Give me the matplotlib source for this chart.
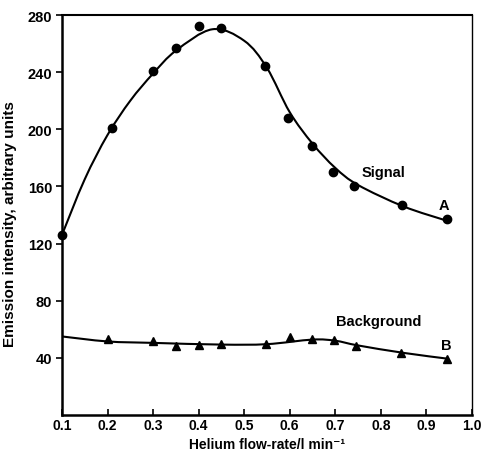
import numpy as np
import matplotlib
matplotlib.use("Agg")
import matplotlib.pyplot as plt
from matplotlib.path import Path
from matplotlib.patches import PathPatch

plt.rcParams['font.family'] = ['Liberation Sans', 'DejaVu Sans']

# --- measured points ---
signal_x = [0.1, 0.21, 0.3, 0.35, 0.4, 0.45, 0.545, 0.597, 0.65, 0.695, 0.742, 0.846, 0.945]
signal_y = [126, 201, 241, 257, 272, 271, 244, 208, 188, 170, 160, 147, 137]

bg_x = [0.2, 0.3, 0.35, 0.4, 0.45, 0.547, 0.6, 0.65, 0.697, 0.746, 0.845, 0.945]
bg_y = [53, 52, 48.5, 49, 49.5, 49.5, 54.5, 53, 52.5, 48, 43.5, 39]

# --- hand-drawn fit curves (knots) ---
signal_fit_x = [0.1, 0.15, 0.2, 0.25, 0.3, 0.35, 0.43, 0.5, 0.55, 0.6, 0.65, 0.7, 0.75, 0.85, 0.945]
signal_fit_y = [126, 165, 196, 220, 239, 255, 270, 262, 243, 212, 190, 173, 161, 146, 136]

bg_fit_x = [0.1, 0.2, 0.3, 0.45, 0.55, 0.65, 0.7, 0.75, 0.85, 0.945]
bg_fit_y = [55, 51.5, 50.5, 49.3, 49.6, 52.8, 52, 48.7, 43.5, 39.5]

x_ticks = [0.1, 0.2, 0.3, 0.4, 0.5, 0.6, 0.7, 0.8, 0.9, 1.0]
y_ticks = [40, 80, 120, 160, 200, 240, 280]


def smooth_path(xs, ys):
    """Catmull-Rom through the knots, expressed as cubic Bezier segments."""
    pts = np.column_stack([xs, ys]).astype(float)
    p = np.vstack([pts[0], pts, pts[-1]])
    verts = [pts[0]]
    codes = [Path.MOVETO]
    for i in range(1, len(p) - 2):
        c1 = p[i] + (p[i + 1] - p[i - 1]) / 6.0
        c2 = p[i + 1] - (p[i + 2] - p[i]) / 6.0
        verts += [c1, c2, p[i + 1]]
        codes += [Path.CURVE4] * 3
    return Path(verts, codes)


fig = plt.figure(figsize=(4.84, 4.52), dpi=100)
ax = fig.add_axes([0.128, 0.0796, 0.847, 0.885])

for fx, fy in [(signal_fit_x, signal_fit_y), (bg_fit_x, bg_fit_y)]:
    ax.add_patch(PathPatch(smooth_path(fx, fy), facecolor='none',
                           edgecolor='black', lw=1.5, zorder=2))

ax.plot(signal_x, signal_y, 'o', color='black', ms=6, zorder=3, clip_on=False)
ax.plot(bg_x, bg_y, '^', color='black', ms=6, zorder=3, clip_on=False)

ax.set_xlim(0.1, 1.0)
ax.set_ylim(0, 280)
ax.set_xticks(x_ticks)
ax.set_xticklabels([f"{v:.1f}" for v in x_ticks])
ax.set_yticks(y_ticks)

ax.tick_params(axis='x', direction='in', length=4, width=1.2, pad=2)
ax.tick_params(axis='y', direction='out', length=4, width=1.2, pad=3)
for lab in ax.get_xticklabels():
    lab.set_fontsize(10)
    lab.set_fontweight('bold')
for lab in ax.get_yticklabels():
    lab.set_fontsize(10.5)
    lab.set_fontweight('bold')

ax.spines['left'].set_linewidth(1.8)
ax.spines['bottom'].set_linewidth(1.8)
ax.spines['top'].set_linewidth(1.5)
ax.spines['right'].set_linewidth(1.0)

# x label sits right at the lower edge of the figure
fig.text(0.552, 0.0, 'Helium flow-rate/l min\u207b\u00b9', fontsize=10,
         fontweight='bold', ha='center', va='bottom')
ax.set_ylabel('Emission intensity, arbitrary units', fontsize=11, fontweight='bold')
ax.yaxis.set_label_coords(-0.11, 0.481)

ax.text(0.806, 170, 'Signal', fontsize=10.5, fontweight='bold', ha='center', va='center')
ax.text(0.938, 147, 'A', fontsize=10.5, fontweight='bold', ha='center', va='center')
ax.text(0.795, 66, 'Background', fontsize=10.5, fontweight='bold', ha='center', va='center')
ax.text(0.944, 49, 'B', fontsize=10.5, fontweight='bold', ha='center', va='center')

fig.savefig('out.png', dpi=100)
